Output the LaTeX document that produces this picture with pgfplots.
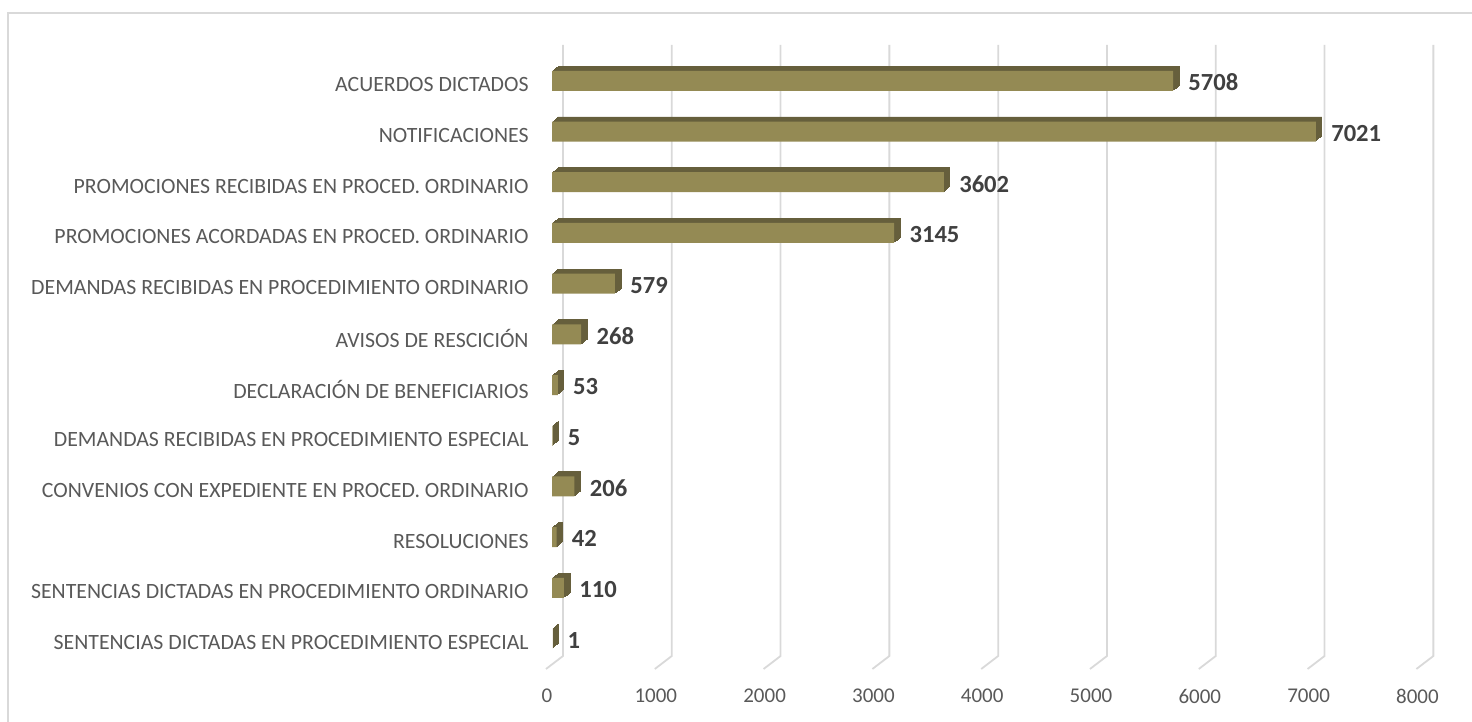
\documentclass[border=0pt]{standalone}
\usepackage{pgfplots}
\usepackage{pgfplotstable}
\pgfplotsset{compat=1.18}
\usepackage{fontspec}
\setmainfont{Carlito}
\definecolor{barfront}{RGB}{148,138,84}
\definecolor{bardark}{RGB}{102,95,60}
\definecolor{gridc}{RGB}{217,217,217}
\definecolor{labc}{RGB}{89,89,89}
\definecolor{valc}{RGB}{64,64,64}
\pgfplotstableread{
idx val
0 1
1 110
2 42
3 206
4 5
5 53
6 268
7 579
8 3145
9 3602
10 7021
11 5708
}\data
\begin{document}
\begin{tikzpicture}
\begin{axis}[
  at={(276pt,26.5pt)}, anchor=south west,
  scale only axis, width=435.2pt, height=313.1pt,
  xmin=0, xmax=8000, ymin=-0.6, ymax=11.75,
  axis line style={draw=none}, major tick length=0pt,
  clip=false,
  xtick={0,1000,...,8000},
  ytick={0,...,11},
  yticklabels={SENTENCIAS DICTADAS EN PROCEDIMIENTO ESPECIAL,
    SENTENCIAS DICTADAS EN PROCEDIMIENTO ORDINARIO,
    RESOLUCIONES,
    CONVENIOS CON EXPEDIENTE EN PROCED. ORDINARIO,
    DEMANDAS RECIBIDAS EN PROCEDIMIENTO ESPECIAL,
    DECLARACIÓN DE BENEFICIARIOS,
    AVISOS DE RESCICIÓN,
    DEMANDAS RECIBIDAS EN PROCEDIMIENTO ORDINARIO,
    PROMOCIONES ACORDADAS EN PROCED. ORDINARIO,
    PROMOCIONES RECIBIDAS EN PROCED. ORDINARIO,
    NOTIFICACIONES,
    ACUERDOS DICTADOS},
  scaled x ticks=false,
  /pgf/number format/assume math mode=true,
  /pgf/number format/1000 sep={},
  xticklabel style={anchor=center, yshift=-13.5pt, xshift=-2.5pt, font=\fontsize{10.5}{12}\selectfont, text=labc},
  yticklabel style={anchor=east, inner sep=0pt, xshift=-11.5pt, yshift=-2pt, font=\fontsize{10.9}{13}\selectfont, text=labc},
]
\pgfplotsinvokeforeach{0,1000,...,8000}{
  \draw[gridc, line width=0.9pt]
    ([xshift=-3pt]axis cs:#1,-0.6) -- ([xshift=5.5pt,yshift=6.5pt]axis cs:#1,-0.6)
    -- ([xshift=5.5pt,yshift=-1pt]axis cs:#1,11.75);
}
\pgfplotsinvokeforeach{6,5,4,3,2,1}{
  \addplot[xbar, bar width=9.6pt, bar shift=0pt, fill=bardark, draw=bardark, line width=0.4pt,
    xshift={#1*0.5pt}, yshift={#1*0.4167pt}] table[x=val,y=idx]{\data};
}
\addplot[xbar, bar width=10pt, bar shift=0pt, fill=barfront, draw=none,
  nodes near coords,
  nodes near coords style={anchor=west, inner sep=0pt, xshift=7.5pt, yshift=-0.8pt,
    font=\fontsize{12.3}{14}\selectfont\bfseries, text=valc,
    /pgf/number format/1000 sep={}, /pgf/number format/assume math mode=true}]
  table[x=val,y=idx]{\data};
\end{axis}
\pgfresetboundingbox
\useasboundingbox (0,0) rectangle (736pt,361pt);
\draw[gridc, line width=0.8pt] (4pt,-5pt) -- (4pt,354.5pt) -- (745pt,354.5pt);
\end{tikzpicture}
\end{document}
